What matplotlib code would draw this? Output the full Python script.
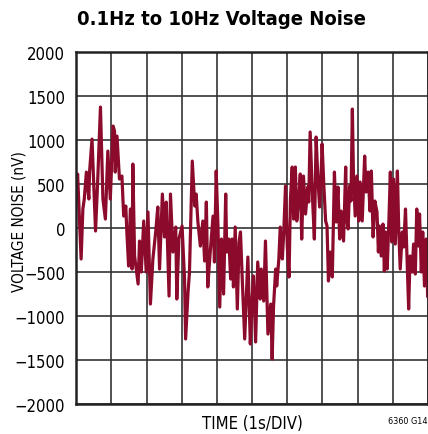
import matplotlib
matplotlib.use('Agg')
import matplotlib.pyplot as plt
import numpy as np

# trace (time in s, noise in nV)
time_s = [0.00, 0.04, 0.14, 0.19, 0.23, 0.29, 0.36, 0.38, 0.45, 0.55,
          0.61, 0.69, 0.76, 0.83, 0.90, 0.97, 1.05, 1.09, 1.11, 1.16,
          1.23, 1.30, 1.35, 1.41, 1.44, 1.49, 1.54, 1.59, 1.61, 1.66,
          1.76, 1.80, 1.85, 1.92, 1.99, 2.04, 2.11, 2.18, 2.26, 2.32,
          2.37, 2.45, 2.51, 2.56, 2.64, 2.68, 2.75, 2.83, 2.86, 2.92,
          3.01, 3.08, 3.11, 3.18, 3.22, 3.30, 3.37, 3.41, 3.46, 3.53,
          3.60, 3.65, 3.70, 3.74, 3.81, 3.89, 3.93, 3.98, 4.03, 4.08,
          4.13, 4.19, 4.25, 4.28, 4.34, 4.39, 4.43, 4.47, 4.52, 4.58,
          4.63, 4.67, 4.72, 4.79, 4.88, 4.95, 4.99, 5.04, 5.10, 5.16,
          5.23, 5.26, 5.33, 5.38, 5.45, 5.53, 5.57, 5.61, 5.67, 5.70,
          5.76, 5.80, 5.86, 5.90, 5.95, 6.00, 6.05, 6.09, 6.14, 6.18,
          6.23, 6.27, 6.33, 6.37, 6.41, 6.46, 6.52, 6.58, 6.61, 6.65,
          6.71, 6.77, 6.82, 6.87, 6.92, 6.97, 6.99, 7.04, 7.09, 7.13,
          7.17, 7.22, 7.28, 7.32, 7.34, 7.39, 7.44, 7.49, 7.53, 7.60,
          7.66, 7.69, 7.73, 7.77, 7.81, 7.85, 7.88, 7.93, 7.98, 8.03,
          8.07, 8.13, 8.20, 8.24, 8.30, 8.35, 8.39, 8.44, 8.49, 8.55,
          8.59, 8.62, 8.67, 8.72, 8.76, 8.79, 8.84, 8.89, 8.93, 8.97,
          9.02, 9.07, 9.13, 9.17, 9.21, 9.27, 9.31, 9.36, 9.40, 9.45,
          9.49, 9.55, 9.59, 9.64, 9.68, 9.73, 9.76, 9.81, 9.85, 9.90,
          9.95, 9.99]
noise_nv = [330, 614, -352, 216, 330, 636, 330, 636, 1011, -34,
            523, 1375, 330, 102, 875, 330, 1159, 1102, 636, 1045,
            557, 591, 136, 250, -45, -432, 216, -466, 727, -318,
            -636, -148, -500, 80, -500, 182, -864, -352, -45, 239,
            -466, 386, -102, 295, -773, 386, -273, 11, -807, -125,
            23, -580, -1261, -727, -500, 761, 250, 386, 68, -205,
            80, -375, 295, -670, -273, 136, -386, 648, 23, -898,
            -125, -750, 386, -273, -125, -580, -125, -670, 11, -920,
            -159, -45, -580, -1261, -330, -1318, -886, -545, -1295, -386,
            -807, -466, -830, -148, -1205, -864, -1489, -886, -466, -659,
            -352, 11, -352, -45, 477, -205, -557, 330, 693, 102,
            693, 80, 364, 614, -125, 591, 159, 466, 295, 1091,
            409, -125, 1034, 557, 239, 705, 955, 477, 80, 23,
            -602, -273, -557, 250, 636, 68, 466, -125, 193, -148,
            693, 102, -11, 477, 307, 1352, 636, 136, 591, 80,
            523, 80, 818, 409, 636, 193, 648, -102, 307, 182,
            -273, 23, -318, 45, -489, -45, -466, 102, 636, -159,
            557, -182, 648, -45, -466, -45, -216, 216, -295, -920,
            -318, -500, -182, -523, 216, -205, 159, -500, -45, -659,
            -125, -773]
y_ticks = [-2000, -1500, -1000, -500, 0, 500, 1000, 1500, 2000]
x_divs = np.arange(0, 11)

plt.rcParams['font.family'] = ['DejaVu Sans']
plt.rcParams['font.stretch'] = 'condensed'

fig = plt.figure(figsize=(4.28, 4.35), dpi=100)
ax = fig.add_axes([0.178, 0.069, 0.822, 0.809])

ax.plot(time_s, noise_nv, color='#8c0a2c', lw=2.3, solid_joinstyle='round')

ax.set_xlim(0, 10)
ax.set_ylim(-2000, 2000)
ax.set_xticks(x_divs)
ax.set_xticklabels([])
ax.set_yticks(y_ticks)
ax.set_yticklabels([str(v).replace('-', '\u2212') for v in y_ticks], fontsize=12)
ax.tick_params(length=0, pad=8)
ax.grid(True, color='#333333', lw=1.2)
ax.set_axisbelow(True)
for s in ax.spines.values():
    s.set_linewidth(1.8)
    s.set_color('#222222')

ax.set_ylabel('VOLTAGE NOISE (nV)', fontsize=11, va='center')
ax.yaxis.set_label_coords(-0.163, 0.52)
ax.set_xlabel('TIME (1s/DIV)', fontsize=12, va='center')
ax.xaxis.set_label_coords(0.5, -0.054)

fig.text(0.18, 0.955, '0.1Hz to 10Hz Voltage Noise', fontsize=14.5,
         fontweight='bold', va='center', ha='left')
fig.text(0.998, 0.032, '6360 G14', fontsize=6.5, ha='right', va='center')

plt.savefig('out.png', dpi=100)
plt.close()
